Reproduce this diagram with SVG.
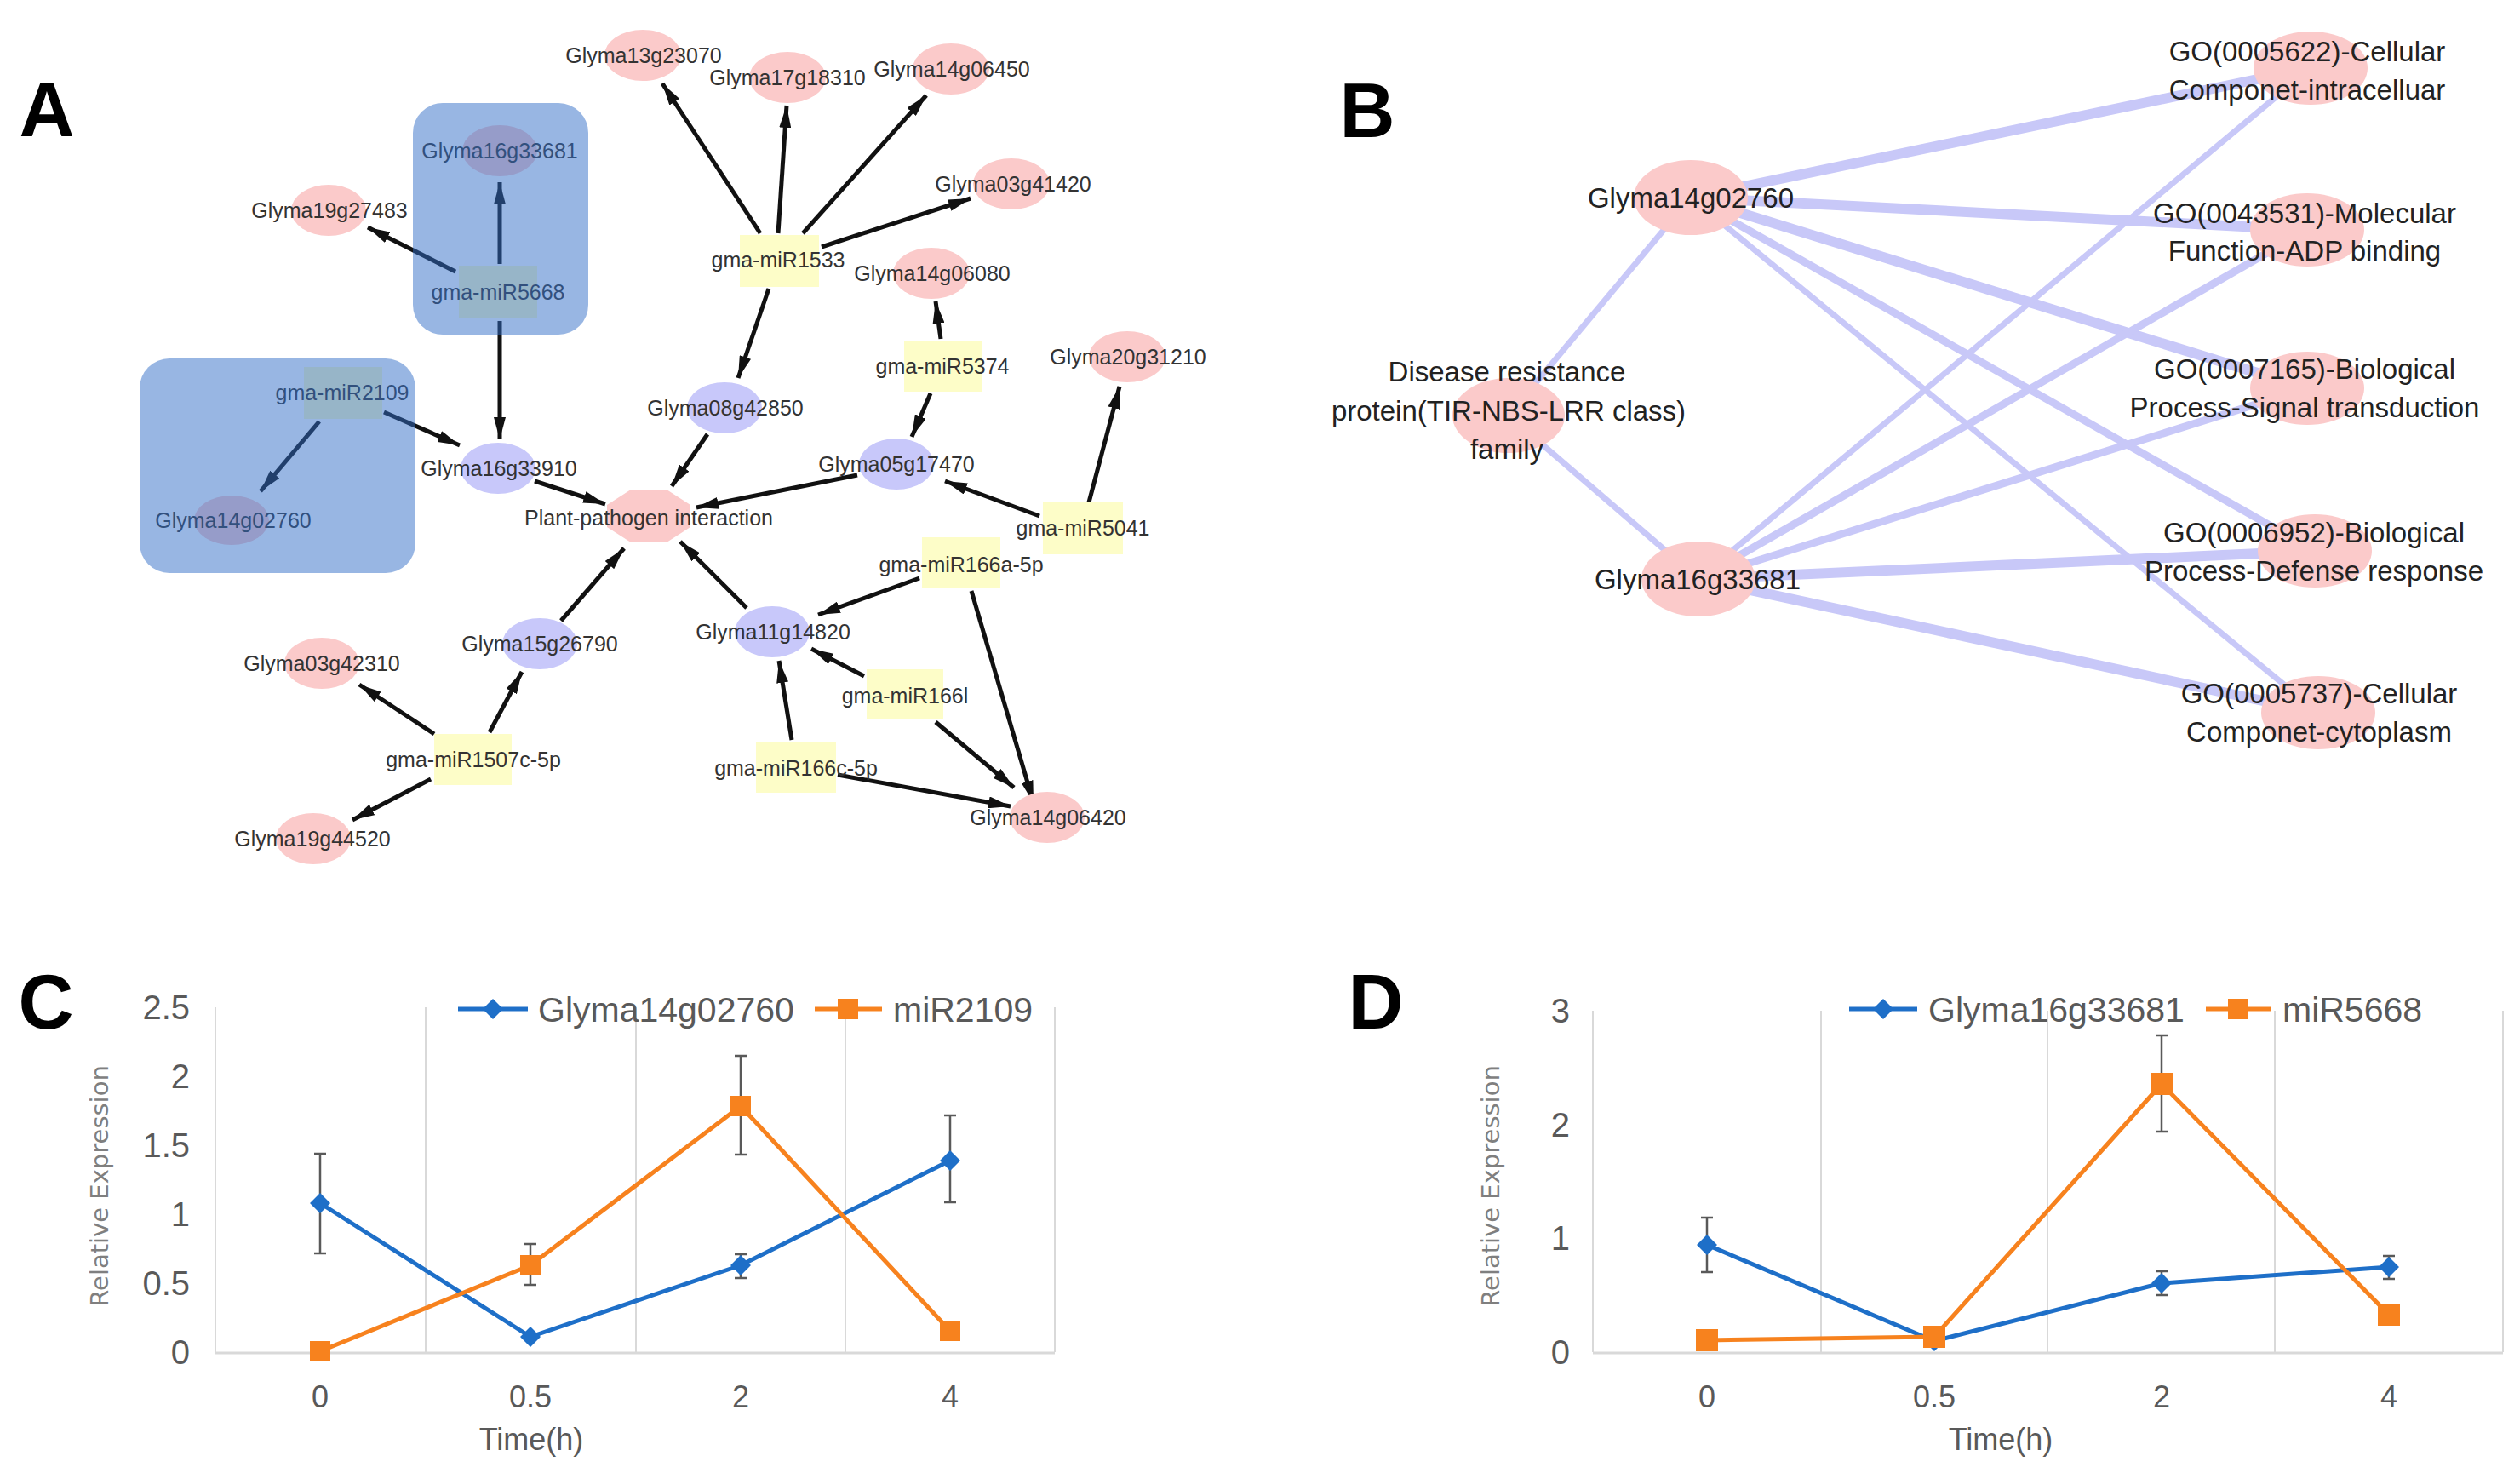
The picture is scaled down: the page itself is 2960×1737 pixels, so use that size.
<svg xmlns="http://www.w3.org/2000/svg" width="2960" height="1737" viewBox="0 0 2960 1737">
<style>
.bg{fill:#ffffff}
.lbl{font-family:"Liberation Sans",Arial,sans-serif;font-weight:bold;font-size:90px;fill:#000;text-anchor:middle}
.pk{fill:#fbcaca}
.lv{fill:#c8c8fa}
.yl{fill:#fdfdc8}
.nt{font-family:"Liberation Sans",Arial,sans-serif;font-size:25px;fill:#333;text-anchor:middle}
.edge{stroke:#111;stroke-width:5;fill:none;marker-end:url(#arr)}
.hl{fill:rgb(50,110,200);fill-opacity:0.5}
.bt{font-family:"Liberation Sans",Arial,sans-serif;font-size:33px;fill:#222;text-anchor:middle}
.be{stroke:#c8c8f8;fill:none;stroke-linecap:butt}
.grid{stroke:#d9d9d9;stroke-width:2}
.axis{stroke:#d9d9d9;stroke-width:3}
.tick{font-family:"Liberation Sans",Arial,sans-serif;font-size:40px;fill:#595959}
.xt{font-family:"Liberation Sans",Arial,sans-serif;font-size:36px;fill:#595959;text-anchor:middle}
.ttl{font-family:"DejaVu Sans",Verdana,sans-serif;font-size:29px;fill:#7f7f7f;text-anchor:middle}
.leg{font-family:"Liberation Sans",Arial,sans-serif;font-size:41px;fill:#595959}
.bl{stroke:#1e6fc8;stroke-width:5;fill:none;stroke-linejoin:round}
.or{stroke:#f7821e;stroke-width:5;fill:none;stroke-linejoin:round}
.bm{fill:#1e6fc8}
.om{fill:#f7821e}
.err{stroke:#595959;stroke-width:2.5;fill:none}
</style>
<defs>
<marker id="arr" markerUnits="userSpaceOnUse" markerWidth="26" markerHeight="14" refX="26" refY="7" orient="auto">
<path d="M0,0 L26,7 L0,14 z" fill="#111"/>
</marker>
</defs>
<rect class="bg" x="0" y="0" width="2960" height="1737"/>

<!-- Panel letters -->
<text class="lbl" x="55" y="160">A</text>
<text class="lbl" x="1606" y="161">B</text>
<text class="lbl" x="54" y="1208">C</text>
<text class="lbl" x="1616" y="1208">D</text>

<!-- ===== Panel A ===== -->
<g id="connectors-A">
<line class="edge" x1="587" y1="310" x2="587" y2="214"/>
<line class="edge" x1="535" y1="319" x2="432" y2="267"/>
<line class="edge" x1="587" y1="377" x2="587" y2="516"/>
<line class="edge" x1="451" y1="484" x2="540" y2="523"/>
<line class="edge" x1="375" y1="495" x2="306" y2="577"/>
<line class="edge" x1="893" y1="274" x2="778" y2="98"/>
<line class="edge" x1="914" y1="274" x2="924" y2="124"/>
<line class="edge" x1="943" y1="274" x2="1088" y2="112"/>
<line class="edge" x1="965" y1="290" x2="1140" y2="233"/>
<line class="edge" x1="903" y1="339" x2="867" y2="444"/>
<line class="edge" x1="1105" y1="398" x2="1099" y2="354"/>
<line class="edge" x1="1093" y1="462" x2="1071" y2="513"/>
<line class="edge" x1="1279" y1="590" x2="1315" y2="454"/>
<line class="edge" x1="1221" y1="606" x2="1110" y2="565"/>
<line class="edge" x1="628" y1="565" x2="711" y2="592"/>
<line class="edge" x1="831" y1="510" x2="789" y2="571"/>
<line class="edge" x1="1007" y1="558" x2="818" y2="596"/>
<line class="edge" x1="659" y1="729" x2="733" y2="644"/>
<line class="edge" x1="877" y1="714" x2="799" y2="636"/>
<line class="edge" x1="1080" y1="679" x2="961" y2="722"/>
<line class="edge" x1="1141" y1="694" x2="1214" y2="943"/>
<line class="edge" x1="1015" y1="794" x2="953" y2="762"/>
<line class="edge" x1="1099" y1="848" x2="1191" y2="925"/>
<line class="edge" x1="930" y1="869" x2="915" y2="776"/>
<line class="edge" x1="984" y1="910" x2="1187" y2="947"/>
<line class="edge" x1="510" y1="862" x2="422" y2="804"/>
<line class="edge" x1="575" y1="860" x2="613" y2="789"/>
<line class="edge" x1="506" y1="915" x2="414" y2="963"/>
</g>

<g id="n-Glyma16g33681-A"><ellipse class="pk" cx="587" cy="177" rx="44" ry="30"/><text class="nt" x="587" y="186">Glyma16g33681</text></g>
<g id="n-Glyma19g27483"><ellipse class="pk" cx="386" cy="247" rx="44" ry="30"/><text class="nt" x="387" y="256">Glyma19g27483</text></g>
<g id="n-miR5668"><rect class="yl" x="539" y="312" width="92" height="62"/><text class="nt" x="585" y="352">gma-miR5668</text></g>
<g id="n-miR2109"><rect class="yl" x="357" y="431" width="92" height="61"/><text class="nt" x="402" y="470">gma-miR2109</text></g>
<g id="n-Glyma16g33910"><ellipse class="lv" cx="585" cy="550" rx="44" ry="30"/><text class="nt" x="586" y="559">Glyma16g33910</text></g>
<g id="n-Glyma14g02760-A"><ellipse class="pk" cx="272" cy="611" rx="44" ry="29"/><text class="nt" x="274" y="620">Glyma14g02760</text></g>
<g id="n-Glyma13g23070"><ellipse class="pk" cx="755" cy="65" rx="45" ry="30"/><text class="nt" x="756" y="74">Glyma13g23070</text></g>
<g id="n-Glyma17g18310"><ellipse class="pk" cx="925" cy="91" rx="45" ry="30"/><text class="nt" x="925" y="100">Glyma17g18310</text></g>
<g id="n-Glyma14g06450"><ellipse class="pk" cx="1117" cy="81" rx="45" ry="30"/><text class="nt" x="1118" y="90">Glyma14g06450</text></g>
<g id="n-Glyma03g41420"><ellipse class="pk" cx="1188" cy="216" rx="45" ry="30"/><text class="nt" x="1190" y="225">Glyma03g41420</text></g>
<g id="n-miR1533"><rect class="yl" x="869" y="276" width="93" height="61"/><text class="nt" x="914" y="314">gma-miR1533</text></g>
<g id="n-Glyma14g06080"><ellipse class="pk" cx="1094" cy="321" rx="45" ry="30"/><text class="nt" x="1095" y="330">Glyma14g06080</text></g>
<g id="n-miR5374"><rect class="yl" x="1062" y="400" width="92" height="60"/><text class="nt" x="1107" y="439">gma-miR5374</text></g>
<g id="n-Glyma20g31210"><ellipse class="pk" cx="1324" cy="419" rx="45" ry="30"/><text class="nt" x="1325" y="428">Glyma20g31210</text></g>
<g id="n-Glyma08g42850"><ellipse class="lv" cx="851" cy="479" rx="44" ry="30"/><text class="nt" x="852" y="488">Glyma08g42850</text></g>
<g id="n-Glyma05g17470"><ellipse class="lv" cx="1053" cy="545" rx="44" ry="30"/><text class="nt" x="1053" y="554">Glyma05g17470</text></g>
<g id="n-PPI"><polygon class="pk" points="741,575 783,575 811,593 811,619 783,637 741,637 713,619 713,593"/><text class="nt" x="762" y="617">Plant-pathogen interaction</text></g>
<g id="n-miR5041"><rect class="yl" x="1225" y="590" width="94" height="61"/><text class="nt" x="1272" y="629">gma-miR5041</text></g>
<g id="n-miR166a-5p"><rect class="yl" x="1083" y="631" width="92" height="60"/><text class="nt" x="1129" y="672">gma-miR166a-5p</text></g>
<g id="n-Glyma11g14820"><ellipse class="lv" cx="907" cy="742" rx="44" ry="30"/><text class="nt" x="908" y="751">Glyma11g14820</text></g>
<g id="n-Glyma15g26790"><ellipse class="lv" cx="634" cy="756" rx="44" ry="30"/><text class="nt" x="634" y="765">Glyma15g26790</text></g>
<g id="n-Glyma03g42310"><ellipse class="pk" cx="378" cy="779" rx="44" ry="30"/><text class="nt" x="378" y="788">Glyma03g42310</text></g>
<g id="n-miR166l"><rect class="yl" x="1018" y="786" width="90" height="59"/><text class="nt" x="1063" y="826">gma-miR166l</text></g>
<g id="n-miR1507c-5p"><rect class="yl" x="510" y="862" width="91" height="60"/><text class="nt" x="556" y="901">gma-miR1507c-5p</text></g>
<g id="n-miR166c-5p"><rect class="yl" x="888" y="871" width="94" height="60"/><text class="nt" x="935" y="911">gma-miR166c-5p</text></g>
<g id="n-Glyma14g06420"><ellipse class="pk" cx="1230" cy="960" rx="44" ry="30"/><text class="nt" x="1231" y="969">Glyma14g06420</text></g>
<g id="n-Glyma19g44520"><ellipse class="pk" cx="368" cy="985" rx="44" ry="30"/><text class="nt" x="367" y="994">Glyma19g44520</text></g>

<g id="highlights">
<rect class="hl" x="485" y="121" width="206" height="272" rx="35" ry="35"/>
<rect class="hl" x="164" y="421" width="324" height="252" rx="35" ry="35"/>
</g>

<!-- ===== Panel B ===== -->
<g id="connectors-B">
<line class="be" stroke-width="12" x1="1986" y1="232" x2="2714" y2="80"/>
<line class="be" stroke-width="12" x1="1986" y1="232" x2="2710" y2="270"/>
<line class="be" stroke-width="12" x1="1986" y1="232" x2="2710" y2="456"/>
<line class="be" stroke-width="9" x1="1986" y1="232" x2="2719" y2="647"/>
<line class="be" stroke-width="7" x1="1986" y1="232" x2="2723" y2="837"/>
<line class="be" stroke-width="7" x1="1995" y1="680" x2="2714" y2="80"/>
<line class="be" stroke-width="9" x1="1995" y1="680" x2="2710" y2="270"/>
<line class="be" stroke-width="9" x1="1995" y1="680" x2="2710" y2="456"/>
<line class="be" stroke-width="12" x1="1995" y1="680" x2="2719" y2="647"/>
<line class="be" stroke-width="12" x1="1995" y1="680" x2="2723" y2="837"/>
<line class="be" stroke-width="7" x1="1986" y1="232" x2="1772" y2="488"/>
<line class="be" stroke-width="7" x1="1995" y1="680" x2="1772" y2="488"/>
</g>
<g id="b-Glyma14g02760"><ellipse class="pk" cx="1986" cy="232" rx="67" ry="44"/><text class="bt" x="1986" y="244">Glyma14g02760</text></g>
<g id="b-Glyma16g33681"><ellipse class="pk" cx="1995" cy="680" rx="67" ry="44"/><text class="bt" x="1994" y="692">Glyma16g33681</text></g>
<g id="b-disease"><ellipse class="pk" cx="1772" cy="488" rx="66" ry="44"/><text class="bt" x="1770" y="448">Disease resistance</text><text class="bt" x="1772" y="494">protein(TIR-NBS-LRR class)</text><text class="bt" x="1770" y="539">family</text></g>
<g id="b-GO0005622"><ellipse class="pk" cx="2714" cy="80" rx="67" ry="43"/><text class="bt" x="2710" y="72">GO(0005622)-Cellular</text><text class="bt" x="2710" y="117">Componet-intracelluar</text></g>
<g id="b-GO0043531"><ellipse class="pk" cx="2710" cy="270" rx="67" ry="43"/><text class="bt" x="2707" y="262">GO(0043531)-Molecular</text><text class="bt" x="2707" y="306">Function-ADP binding</text></g>
<g id="b-GO0007165"><ellipse class="pk" cx="2710" cy="456" rx="67" ry="43"/><text class="bt" x="2707" y="445">GO(0007165)-Biological</text><text class="bt" x="2707" y="490">Process-Signal transduction</text></g>
<g id="b-GO0006952"><ellipse class="pk" cx="2719" cy="647" rx="67" ry="43"/><text class="bt" x="2718" y="637">GO(0006952)-Biological</text><text class="bt" x="2718" y="682">Process-Defense response</text></g>
<g id="b-GO0005737"><ellipse class="pk" cx="2723" cy="837" rx="67" ry="43"/><text class="bt" x="2724" y="826">GO(0005737)-Cellular</text><text class="bt" x="2724" y="871">Componet-cytoplasm</text></g>

<!-- ===== Panel C ===== -->
<g id="chart-C">
<line class="grid" x1="253" y1="1183" x2="253" y2="1588"/>
<line class="grid" x1="500" y1="1183" x2="500" y2="1588"/>
<line class="grid" x1="747" y1="1183" x2="747" y2="1588"/>
<line class="grid" x1="993" y1="1183" x2="993" y2="1588"/>
<line class="grid" x1="1239" y1="1183" x2="1239" y2="1588"/>
<line class="axis" x1="253" y1="1589" x2="1239" y2="1589"/>
<g text-anchor="end">
<text class="tick" x="223" y="1197">2.5</text>
<text class="tick" x="223" y="1278">2</text>
<text class="tick" x="223" y="1359">1.5</text>
<text class="tick" x="223" y="1440">1</text>
<text class="tick" x="223" y="1521">0.5</text>
<text class="tick" x="223" y="1602">0</text>
</g>
<text class="xt" x="376" y="1653">0</text>
<text class="xt" x="623" y="1653">0.5</text>
<text class="xt" x="870" y="1653">2</text>
<text class="xt" x="1116" y="1653">4</text>
<text class="xt" x="624" y="1703" font-size="35">Time(h)</text>
<text class="ttl" transform="translate(127,1393) rotate(-90)">Relative Expression</text>
<polyline class="bl" points="376,1413 623,1570 870,1486 1116,1363"/>
<path class="err" d="M376,1355V1472M369,1355H383M369,1472H383 M870,1473V1501M863,1473H877M863,1501H877 M1116,1310V1412M1109,1310H1123M1109,1412H1123"/>
<path class="bm" d="M376,1401l12,12l-12,12l-12,-12z M623,1558l12,12l-12,12l-12,-12z M870,1474l12,12l-12,12l-12,-12z M1116,1351l12,12l-12,12l-12,-12z"/>
<polyline class="or" points="376,1587 623,1486 870,1299 1116,1563"/>
<path class="err" d="M623,1461V1509M616,1461H630M616,1509H630 M870,1240V1356M863,1240H877M863,1356H877"/>
<path class="om" d="M364,1575h24v24h-24z M611,1474h24v24h-24z M858,1287h24v24h-24z M1104,1551h24v24h-24z"/>
<line class="bl" x1="538" y1="1185" x2="620" y2="1185"/>
<path class="bm" d="M579,1173l12,12l-12,12l-12,-12z"/>
<text class="leg" x="632" y="1200">Glyma14g02760</text>
<line class="or" x1="957" y1="1185" x2="1036" y2="1185"/>
<rect class="om" x="984" y="1173" width="24" height="24"/>
<text class="leg" x="1049" y="1200">miR2109</text>
</g>

<!-- ===== Panel D ===== -->
<g id="chart-D">
<line class="grid" x1="1871" y1="1187" x2="1871" y2="1588"/>
<line class="grid" x1="2139" y1="1187" x2="2139" y2="1588"/>
<line class="grid" x1="2405" y1="1187" x2="2405" y2="1588"/>
<line class="grid" x1="2672" y1="1187" x2="2672" y2="1588"/>
<line class="grid" x1="2940" y1="1187" x2="2940" y2="1588"/>
<line class="axis" x1="1871" y1="1589" x2="2940" y2="1589"/>
<g text-anchor="end">
<text class="tick" x="1844" y="1201">3</text>
<text class="tick" x="1844" y="1335">2</text>
<text class="tick" x="1844" y="1468">1</text>
<text class="tick" x="1844" y="1602">0</text>
</g>
<text class="xt" x="2005" y="1653">0</text>
<text class="xt" x="2272" y="1653">0.5</text>
<text class="xt" x="2539" y="1653">2</text>
<text class="xt" x="2806" y="1653">4</text>
<text class="xt" x="2350" y="1703" font-size="35">Time(h)</text>
<text class="ttl" transform="translate(1761,1393) rotate(-90)">Relative Expression</text>
<polyline class="bl" points="2005,1462 2272,1575 2539,1507 2806,1488"/>
<path class="err" d="M2005,1430V1494M1998,1430H2012M1998,1494H2012 M2539,1493V1521M2532,1493H2546M2532,1521H2546 M2806,1475V1502M2799,1475H2813M2799,1502H2813"/>
<path class="bm" d="M2005,1450l12,12l-12,12l-12,-12z M2272,1563l12,12l-12,12l-12,-12z M2539,1495l12,12l-12,12l-12,-12z M2806,1476l12,12l-12,12l-12,-12z"/>
<polyline class="or" points="2005,1574 2272,1570 2539,1273 2806,1544"/>
<path class="err" d="M2539,1216V1329M2532,1216H2546M2532,1329H2546"/>
<path class="om" d="M1992,1561h26v26h-26z M2259,1557h26v26h-26z M2526,1260h26v26h-26z M2793,1531h26v26h-26z"/>
<line class="bl" x1="2172" y1="1185" x2="2252" y2="1185"/>
<path class="bm" d="M2212,1173l12,12l-12,12l-12,-12z"/>
<text class="leg" x="2265" y="1200">Glyma16g33681</text>
<line class="or" x1="2591" y1="1185" x2="2667" y2="1185"/>
<rect class="om" x="2617" y="1173" width="24" height="24"/>
<text class="leg" x="2681" y="1200">miR5668</text>
</g>
</svg>
